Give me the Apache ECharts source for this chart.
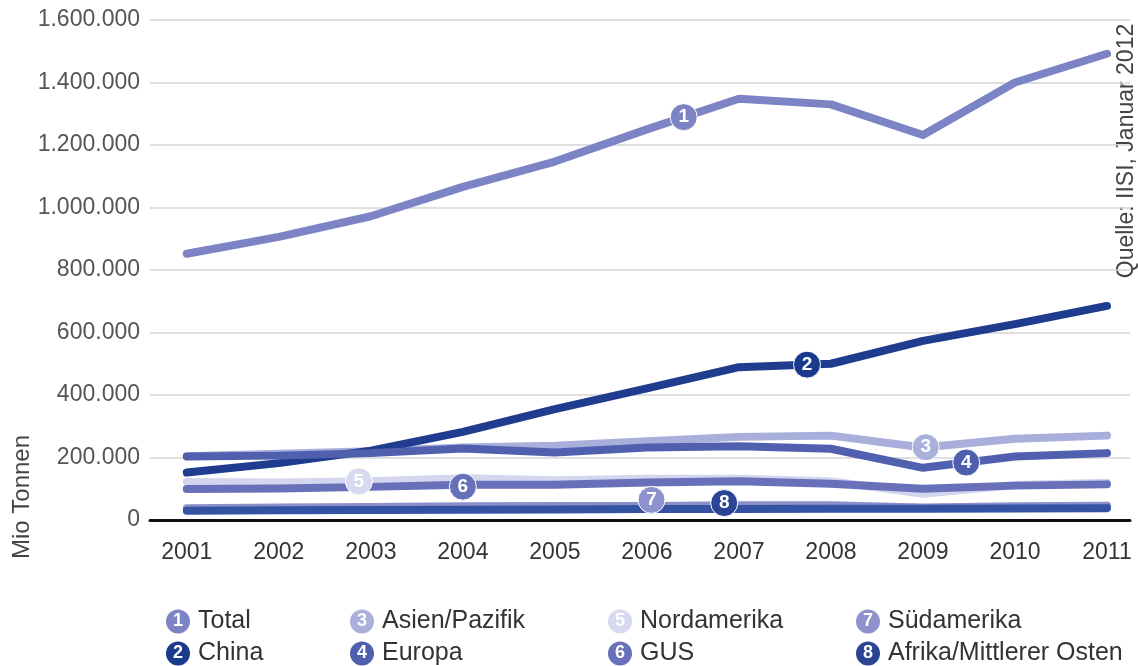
<!DOCTYPE html>
<html><head><meta charset="utf-8">
<script src="https://cdn.jsdelivr.net/npm/echarts@6/dist/echarts.min.js"></script>
<style>html,body{margin:0;padding:0;background:#fff}#c{width:1138px;height:666px}</style>
</head><body><div id="c"></div>
<script>
// ---- data (tonnes, as labelled on the axis) ----
const years = [2001, 2002, 2003, 2004, 2005, 2006, 2007, 2008, 2009, 2010, 2011];
const total        = [852000, 906000, 972000, 1066000, 1147000, 1250000, 1348000, 1330000, 1232000, 1400000, 1492000];
const china        = [152000, 182000, 222000, 282000, 355000, 421000, 489000, 500000, 573000, 627000, 685000];
const asienPazifik = [204000, 212000, 220000, 232000, 238000, 252000, 266000, 270000, 232000, 260000, 270000];
const europa       = [203000, 206000, 214000, 229000, 216000, 232000, 236000, 228000, 167000, 203000, 214000];
const nordamerika  = [122000, 120000, 124000, 134000, 127000, 132000, 132000, 124000, 84000, 112000, 119000];
const gus          = [99000, 101000, 106000, 113000, 113000, 120000, 124000, 116000, 100000, 110000, 114000];
const suedamerika  = [38000, 40000, 42000, 44000, 45000, 45000, 47000, 47000, 40000, 44000, 46000];
const afrikaMO     = [30000, 31000, 32000, 33000, 34000, 35000, 35000, 36000, 36000, 37000, 38000];
const yTicks = [0, 200000, 400000, 600000, 800000, 1000000, 1200000, 1400000, 1600000];
const names = ['Total', 'China', 'Asien/Pazifik', 'Europa', 'Nordamerika', 'GUS', 'Südamerika', 'Afrika/Mittlerer Osten'];
const seriesData = [total, china, asienPazifik, europa, nordamerika, gus, suedamerika, afrikaMO];
// position (in years) where each numbered marker sits on its line
const markerYears = [2006.4, 2007.74, 2009.03, 2009.47, 2002.87, 2004.0, 2006.05, 2006.84];

// ---- styles ----
const lineColors   = ['#7d84c5', '#1f3c8e', '#a8afdb', '#5060af', '#d3d6ee', '#6870b9', '#8b90ca', '#3553a3'];
const markerColors = ['#7d84c5', '#1a3a8c', '#a9b0db', '#4f5fae', '#d6d9ef', '#6870b9', '#8d92cc', '#2b4594'];
const markerOffsets = [0, 0, 0, 0, 0, 2, -6, -6];
const drawOrder = [0, 2, 4, 6, 1, 3, 5, 7];
const FONT = '"Liberation Sans", Arial, Helvetica, sans-serif';

function interp(arr, yr) {
  const i = Math.min(Math.floor(yr - years[0]), years.length - 2);
  const f = yr - years[i];
  return arr[i] + (arr[i + 1] - arr[i]) * f;
}
function deFmt(v) { return String(v).replace(/\B(?=(\d{3})+(?!\d))/g, '.'); }

const series = drawOrder.map(k => ({
  name: names[k],
  type: 'line',
  data: years.map((y, i) => [y, seriesData[k][i]]),
  symbol: 'none',
  lineStyle: { color: lineColors[k], width: 8, cap: 'round', join: 'round' },
  itemStyle: { color: markerColors[k] },
  emphasis: { disabled: true },
  markPoint: {
    symbol: 'circle',
    symbolSize: 27,
    symbolOffset: [0, markerOffsets[k]],
    itemStyle: { color: markerColors[k], borderColor: '#ffffff', borderWidth: 1 },
    label: { show: true, position: 'inside', formatter: String(k + 1), color: '#fff', fontSize: 19, fontWeight: 'bold', fontFamily: FONT },
    data: [{ coord: [markerYears[k], interp(seriesData[k], markerYears[k])] }]
  }
}));

const rich = { s: { width: 8 } };
markerColors.forEach((c, i) => {
  rich['n' + i] = { width: 24, height: 24, lineHeight: 24, borderRadius: 12, backgroundColor: c, color: '#fff', align: 'center', fontSize: 18, fontWeight: 'bold', fontFamily: FONT };
});
const colLeft = [161, 345, 603, 851];
const rowTop = [609, 641];
const legends = names.map((nm, i) => ({
  orient: 'horizontal', left: colLeft[Math.floor(i / 2)], top: rowTop[i % 2], padding: 0,
  itemWidth: 0, itemHeight: 24, icon: 'none', selectedMode: false,
  data: [nm],
  formatter: name => { const j = names.indexOf(name); return '{n' + j + '|' + (j + 1) + '}{s| }' + name; },
  textStyle: { color: '#333', fontSize: 25, fontFamily: FONT, rich: rich }
}));

const chart = echarts.init(document.getElementById('c'), null, { renderer: 'canvas' });
chart.setOption({
  animation: false,
  backgroundColor: '#ffffff',
  grid: { left: 150, right: 8, top: 20, bottom: 146, containLabel: false },
  xAxis: {
    type: 'value', min: 2000.6, max: 2011.25,
    axisLine: { show: true, lineStyle: { color: '#111', width: 3 } },
    axisTick: { show: false },
    splitLine: { show: false },
    axisLabel: { customValues: years, formatter: v => String(v), color: '#333', fontSize: 23, fontFamily: FONT, margin: 21 }
  },
  yAxis: {
    type: 'value', min: 0, max: 1600000, interval: 200000,
    axisLine: { show: false }, axisTick: { show: false },
    splitLine: { lineStyle: { color: '#d4d4d4', width: 1.5 } },
    axisLabel: { formatter: v => deFmt(v), color: '#555', fontSize: 23, fontFamily: FONT, margin: 10 }
  },
  legend: legends,
  graphic: [
    { type: 'text', x: 22, y: 497, rotation: Math.PI / 2,
      style: { text: 'Mio Tonnen', fill: '#444', font: '24px ' + FONT, align: 'center', verticalAlign: 'middle' } },
    { type: 'text', x: 1127, y: 151, rotation: Math.PI / 2,
      style: { text: 'Quelle: IISI, Januar 2012', fill: '#444', font: '23px ' + FONT, align: 'center', verticalAlign: 'middle' } }
  ],
  series: series
});
</script>
</body></html>
